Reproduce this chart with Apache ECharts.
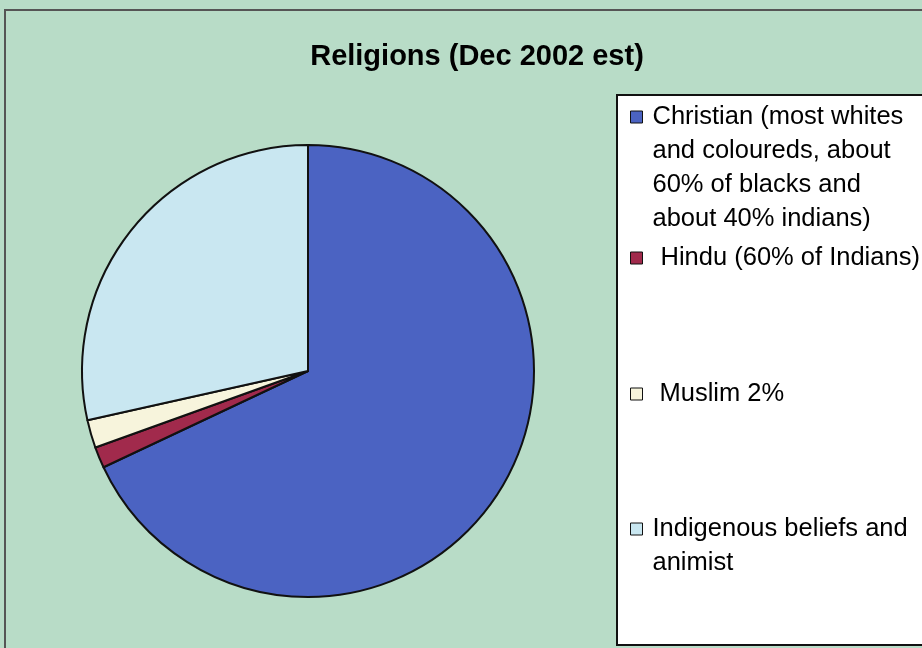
<!DOCTYPE html>
<html><head><meta charset="utf-8">
<script src="https://cdn.jsdelivr.net/npm/echarts@6/dist/echarts.min.js"></script>
<style>html,body{margin:0;padding:0;background:#fff}#c{width:922px;height:648px}</style>
</head><body><div id="c"></div>
<script>
const categories = [
  'Christian (most whites and coloureds, about 60% of blacks and about 40% indians)',
  'Hindu (60% of Indians)',
  'Muslim 2%',
  'Indigenous beliefs and animist'
];
const legendLines = [
  ['Christian (most whites', 'and coloureds, about', '60% of blacks and', 'about 40% indians)'],
  ['Hindu (60% of Indians)'],
  ['Muslim 2%'],
  ['Indigenous beliefs and', 'animist']
];
const values = [68, 1.5, 2, 28.5];
const colors = ['#4b63c2', '#a12a4c', '#f7f4dc', '#c9e7f1'];

const LH = 34, FS = 25.5;
const iconCenters = [117, 258, 394, 529];
const textPadLeft = [5, 13, 12, 5];

const legends = categories.map((name, i) => {
  const n = legendLines[i].length;
  const T = (2 * n - 1) * LH;
  return {
    data: [name],
    orient: 'vertical',
    left: 630,
    top: iconCenters[i] - T / 2,
    padding: 0,
    itemWidth: 12,
    itemHeight: 12,
    icon: 'rect',
    itemStyle: { borderColor: '#111', borderWidth: 1 },
    selectedMode: false,
    formatter: () => '\n'.repeat(n - 1) + legendLines[i].join('\n'),
    textStyle: {
      fontFamily: 'Liberation Sans, Arial, sans-serif',
      fontSize: FS,
      lineHeight: LH,
      color: '#000',
      padding: [0, 0, 0, textPadLeft[i]]
    }
  };
});

const chart = echarts.init(document.getElementById('c'), null, { renderer: 'canvas' });
chart.setOption({
  animation: false,
  backgroundColor: '#b8dcc7',
  title: {
    text: 'Religions (Dec 2002 est)',
    left: 472,
    textAlign: 'center',
    top: 37,
    textStyle: { fontFamily: 'Liberation Sans, Arial, sans-serif', fontWeight: 'bold', fontSize: 29, color: '#000' }
  },
  graphic: [
    { type: 'rect', shape: { x: 5, y: 10, width: 930, height: 660 }, style: { fill: 'none', stroke: '#555', lineWidth: 2 }, silent: true, z: -1 },
    { type: 'rect', shape: { x: 617, y: 95, width: 320, height: 550 }, style: { fill: '#fff', stroke: '#111', lineWidth: 2 }, silent: true, z: -1 }
  ],
  legend: legends,
  series: [{
    type: 'pie',
    center: [308, 371],
    radius: [0, 226],
    startAngle: 90,
    clockwise: true,
    label: { show: false },
    labelLine: { show: false },
    itemStyle: { borderColor: '#111', borderWidth: 2 },
    data: categories.map((name, i) => ({ name, value: values[i], itemStyle: { color: colors[i] } }))
  }]
});
</script></body></html>
